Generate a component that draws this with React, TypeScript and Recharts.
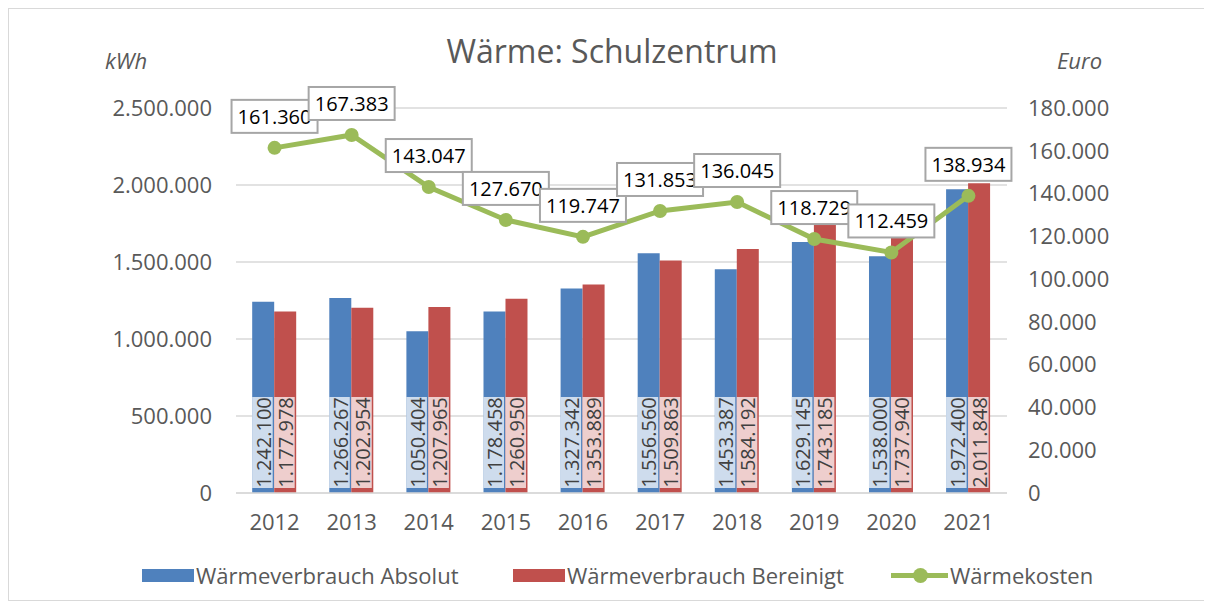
import React from "react";
import {
  ComposedChart,
  Bar,
  Line,
  XAxis,
  YAxis,
  CartesianGrid,
  LabelList,
} from "recharts";

const years = ["2012", "2013", "2014", "2015", "2016", "2017", "2018", "2019", "2020", "2021"];
const verbrauchAbsolut = [1242100, 1266267, 1050404, 1178458, 1327342, 1556560, 1453387, 1629145, 1538000, 1972400];
const verbrauchBereinigt = [1177978, 1202954, 1207965, 1260950, 1353889, 1509863, 1584192, 1743185, 1737940, 2011848];
const waermekosten = [161360, 167383, 143047, 127670, 119747, 131853, 136045, 118729, 112459, 138934];
const kwhTicks = [0, 500000, 1000000, 1500000, 2000000, 2500000];
const euroTicks = [0, 20000, 40000, 60000, 80000, 100000, 120000, 140000, 160000, 180000];

const BLUE = "#4f81bd";
const RED = "#c0504d";
const GREEN = "#9bbb59";
const GRAY_TEXT = "#595959";
const FONT = "'Open Sans', sans-serif";

// 1234567 -> "1.234.567"
function fmt(v: number): string {
  return String(Math.round(v)).replace(/\B(?=(\d{3})+(?!\d))/g, ".");
}

const data = years.map((year, i) => ({
  year,
  absolut: verbrauchAbsolut[i],
  bereinigt: verbrauchBereinigt[i],
  kosten: waermekosten[i],
}));

function BarValueLabel(props: any) {
  const { x, y, width, height, value } = props;
  const base = y + height;
  const boxH = 91;
  const boxBottom = base - 5;
  const cx = x + width / 2;
  const cy = boxBottom - boxH / 2;
  return (
    <g>
      <rect x={x} y={boxBottom - boxH} width={width - 1.5} height={boxH} fill="#fff" fillOpacity={0.72} />
      <text
        x={cx}
        y={cy}
        transform={`rotate(-90 ${cx} ${cy})`}
        textAnchor="middle"
        dominantBaseline="central"
        fontSize={20}
        fontFamily={FONT}
        fill="#404040"
      >
        {fmt(value)}
      </text>
    </g>
  );
}

function CostLabel(props: any) {
  const { x, y, value } = props;
  const w = 86;
  const h = 33;
  const bottom = y - 15;
  return (
    <g>
      <rect x={x - w / 2} y={bottom - h} width={w} height={h} fill="#fff" stroke="#a6a6a6" strokeWidth={2} />
      <text
        x={x}
        y={bottom - h / 2}
        textAnchor="middle"
        dominantBaseline="central"
        fontSize={20}
        fontFamily={FONT}
        fill="#000"
      >
        {fmt(value)}
      </text>
    </g>
  );
}

const legendText: React.CSSProperties = {
  position: "absolute",
  fontSize: 22,
  color: GRAY_TEXT,
  lineHeight: "30px",
  whiteSpace: "nowrap",
};

export default function App() {
  return (
    <div style={{ position: "relative", width: 1197, height: 593, fontFamily: FONT, background: "#fff" }}>
      <div
        style={{
          position: "absolute",
          inset: 0,
          border: "1px solid #d9d9d9",
          boxSizing: "border-box",
          pointerEvents: "none",
        }}
      />
      <div
        style={{
          position: "absolute",
          left: 604,
          top: 23,
          transform: "translateX(-50%)",
          fontSize: 32,
          lineHeight: "40px",
          color: GRAY_TEXT,
          whiteSpace: "nowrap",
        }}
      >
        Wärme: Schulzentrum
      </div>
      <div style={{ position: "absolute", left: 97, top: 37, fontSize: 22, fontStyle: "italic", color: GRAY_TEXT }}>kWh</div>
      <div style={{ position: "absolute", left: 1049, top: 37, fontSize: 22, fontStyle: "italic", color: GRAY_TEXT }}>Euro</div>

      <div style={{ position: "absolute", left: 0, top: 0 }}>
        <ComposedChart
          width={1197}
          height={593}
          data={data}
          margin={{ top: 100, right: 0, left: 0, bottom: 68 }}
          barCategoryGap="21%"
          barGap={0}
        >
          <CartesianGrid yAxisId="left" vertical={false} stroke="#d9d9d9" strokeWidth={1.5} />
          <XAxis
            dataKey="year"
            axisLine={{ stroke: "#d9d9d9", strokeWidth: 1.5 }}
            tickLine={false}
            tickSize={0}
            tickMargin={21}
            height={40}
            tick={{ fontSize: 22, fill: GRAY_TEXT, fontFamily: FONT }}
          />
          <YAxis
            yAxisId="left"
            width={228}
            domain={[0, 2500000]}
            ticks={kwhTicks}
            tickFormatter={(v: number) => fmt(v)}
            axisLine={false}
            tickLine={false}
            tickSize={0}
            tickMargin={24}
            tick={{ fontSize: 22, fill: GRAY_TEXT, fontFamily: FONT }}
          />
          <YAxis
            yAxisId="right"
            orientation="right"
            width={198}
            domain={[0, 180000]}
            ticks={euroTicks}
            tickFormatter={(v: number) => fmt(v)}
            axisLine={false}
            tickLine={false}
            tickSize={0}
            tickMargin={21}
            tick={{ fontSize: 22, fill: GRAY_TEXT, fontFamily: FONT, textAnchor: "start" }}
          />
          <Bar yAxisId="left" dataKey="absolut" fill={BLUE} isAnimationActive={false}>
            <LabelList dataKey="absolut" content={BarValueLabel} />
          </Bar>
          <Bar yAxisId="left" dataKey="bereinigt" fill={RED} isAnimationActive={false}>
            <LabelList dataKey="bereinigt" content={BarValueLabel} />
          </Bar>
          <Line
            yAxisId="right"
            dataKey="kosten"
            stroke={GREEN}
            strokeWidth={5}
            dot={{ r: 7, fill: GREEN, stroke: GREEN, strokeWidth: 0 }}
            isAnimationActive={false}
          >
            <LabelList dataKey="kosten" content={CostLabel} />
          </Line>
        </ComposedChart>
      </div>

      {/* legend */}
      <div style={{ position: "absolute", left: 134, top: 561, width: 52, height: 13, background: BLUE }} />
      <div style={{ ...legendText, left: 188, top: 552 }}>Wärmeverbrauch Absolut</div>
      <div style={{ position: "absolute", left: 505, top: 561, width: 52, height: 13, background: RED }} />
      <div style={{ ...legendText, left: 559, top: 552 }}>Wärmeverbrauch Bereinigt</div>
      <div style={{ position: "absolute", left: 883, top: 565, width: 57, height: 5, background: GREEN }} />
      <div
        style={{
          position: "absolute",
          left: 905,
          top: 560,
          width: 15,
          height: 15,
          borderRadius: "50%",
          background: GREEN,
        }}
      />
      <div style={{ ...legendText, left: 942, top: 552 }}>Wärmekosten</div>
    </div>
  );
}
